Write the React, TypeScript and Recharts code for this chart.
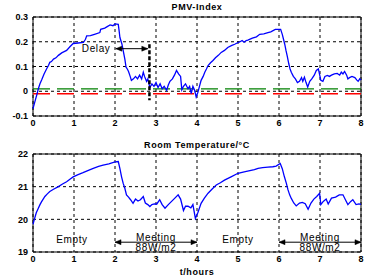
import React from "react";
import {
  CartesianGrid,
  Line,
  LineChart,
  ReferenceArea,
  ReferenceDot,
  ReferenceLine,
  XAxis,
  YAxis,
} from "recharts";

// PMV index
const pmvTime = [
  0, 0.05, 0.1, 0.13, 0.17, 0.21, 0.27, 0.33, 0.38, 0.41, 0.45, 0.5, 0.56, 0.62, 0.7, 0.76, 0.82, 0.9, 0.98,
  1.1, 1.23, 1.28, 1.31, 1.4, 1.5, 1.63, 1.65, 1.75, 1.8, 1.88, 1.95, 2.0, 2.08, 2.1, 2.12, 2.17, 2.2, 2.24,
  2.27, 2.3, 2.33, 2.37, 2.4, 2.45, 2.5, 2.55, 2.6, 2.65, 2.69, 2.72, 2.77, 2.8, 2.85, 2.9, 2.95, 3.0, 3.05,
  3.1, 3.15, 3.2, 3.26, 3.3, 3.34, 3.4, 3.45, 3.5, 3.55, 3.6, 3.63, 3.67, 3.72, 3.78, 3.82, 3.86, 3.9, 3.94,
  3.98, 4.02, 4.06, 4.1, 4.15, 4.19, 4.23, 4.27, 4.33, 4.39, 4.45, 4.52, 4.59, 4.67, 4.75, 4.85, 4.92, 5.0,
  5.05, 5.1, 5.15, 5.2, 5.24, 5.35, 5.45, 5.53, 5.63, 5.73, 5.8, 5.91, 5.98, 6.04, 6.08, 6.11, 6.14, 6.17,
  6.2, 6.24, 6.27, 6.3, 6.35, 6.4, 6.45, 6.5, 6.55, 6.58, 6.62, 6.66, 6.7, 6.75, 6.8, 6.86, 6.91, 6.96, 7.0,
  7.02, 7.07, 7.12, 7.18, 7.23, 7.28, 7.35, 7.42, 7.48, 7.52, 7.56, 7.6, 7.65, 7.68, 7.72, 7.78, 7.85, 7.9,
  7.93, 7.97, 8.0,
];
const pmvValue = [
  -0.07, -0.04, -0.01, 0.01, 0.03, 0.045, 0.07, 0.09, 0.105, 0.117, 0.12, 0.13, 0.135, 0.145, 0.155, 0.16,
  0.165, 0.18, 0.193, 0.195, 0.197, 0.21, 0.224, 0.225, 0.23, 0.237, 0.25, 0.255, 0.26, 0.268, 0.265, 0.272,
  0.27, 0.245, 0.217, 0.19, 0.164, 0.13, 0.097, 0.09, 0.08, 0.06, 0.044, 0.05, 0.06, 0.05, 0.065, 0.05, 0.077,
  0.06, 0.04, 0.05, 0.015, 0.03, 0.02, 0.035, 0.015, 0.03, 0.01, 0.02, 0.004, 0.025, 0.04, 0.05, 0.065, 0.084,
  0.07, 0.06, 0.006, 0.02, 0.03, 0.01, 0.02, -0.01, 0.02, 0.005, -0.023, -0.005, 0.02, 0.044, 0.06, 0.077,
  0.09, 0.104, 0.115, 0.124, 0.135, 0.145, 0.157, 0.165, 0.177, 0.185, 0.19, 0.197, 0.2, 0.205, 0.198, 0.205,
  0.207, 0.215, 0.22, 0.23, 0.232, 0.237, 0.24, 0.25, 0.25, 0.25, 0.23, 0.21, 0.19, 0.165, 0.143, 0.11, 0.09,
  0.077, 0.06, 0.05, 0.035, 0.04, 0.055, 0.04, 0.057, 0.035, 0.017, 0.04, 0.05, 0.065, 0.084, 0.09, 0.06,
  0.044, 0.04, 0.06, 0.064, 0.06, 0.065, 0.07, 0.072, 0.065, 0.077, 0.07, 0.08, 0.065, 0.05, 0.055, 0.06,
  0.055, 0.045, 0.04, 0.05, 0.045,
];

// room temperature, lower panel
const tempTime = [
  0, 0.04, 0.08, 0.13, 0.17, 0.21, 0.29, 0.35, 0.41, 0.5, 0.62, 0.72, 0.82, 0.9, 0.98, 1.1, 1.22, 1.35, 1.47,
  1.6, 1.71, 1.85, 2.0, 2.08, 2.12, 2.16, 2.2, 2.24, 2.28, 2.33, 2.38, 2.44, 2.5, 2.56, 2.62, 2.69, 2.74, 2.8,
  2.85, 2.9, 2.96, 3.02, 3.09, 3.15, 3.22, 3.3, 3.38, 3.46, 3.54, 3.6, 3.67, 3.72, 3.78, 3.85, 3.9, 3.96, 4.02,
  4.1, 4.18, 4.27, 4.37, 4.47, 4.57, 4.67, 4.83, 5.0, 5.15, 5.29, 5.4, 5.49, 5.6, 5.73, 5.85, 5.93, 6.03, 6.08,
  6.13, 6.18, 6.22, 6.26, 6.3, 6.36, 6.42, 6.5, 6.57, 6.64, 6.71, 6.78, 6.85, 6.92, 6.99, 7.02, 7.08, 7.15,
  7.2, 7.28, 7.38, 7.47, 7.56, 7.62, 7.68, 7.75, 7.8, 7.88, 7.95, 8.0,
];
const tempValue = [
  19.85, 20.03, 20.2, 20.34, 20.45, 20.54, 20.7, 20.78, 20.85, 20.92, 21.0, 21.08, 21.15, 21.23, 21.3, 21.37,
  21.43, 21.5, 21.56, 21.62, 21.66, 21.7, 21.76, 21.77, 21.55, 21.3, 21.1, 20.95, 20.75, 20.68, 20.6, 20.49,
  20.62, 20.56, 20.6, 20.7, 20.5, 20.45, 20.39, 20.45, 20.47, 20.47, 20.6, 20.45, 20.34, 20.45, 20.55, 20.65,
  20.75, 20.62, 20.27, 20.4, 20.4, 20.35, 20.45, 20.03, 20.2, 20.49, 20.65, 20.8, 20.93, 21.05, 21.12, 21.2,
  21.3, 21.41, 21.45, 21.49, 21.52, 21.56, 21.58, 21.6, 21.61, 21.63, 21.71, 21.55, 21.31, 21.1, 20.9, 20.75,
  20.64, 20.5, 20.41, 20.5, 20.52, 20.48, 20.31, 20.5, 20.62, 20.7, 20.8, 20.45, 20.55, 20.62, 20.47, 20.65,
  20.68, 20.75, 20.75, 20.6, 20.45, 20.55, 20.6, 20.45, 20.47, 20.46,
];

const hourTicks = [0, 1, 2, 3, 4, 5, 6, 7, 8];
const pmvTicks = [-0.1, 0, 0.1, 0.2, 0.3];
const tempTicks = [19, 20, 21, 22];

// comfort band limits
const upperLimit = 0.01;
const lowerLimit = -0.01;

// delay annotation
const delayStart = 2.02;
const delayEnd = 2.8;
const delayLevel = 0.172;
const delayMark = 2.84;
const delayMarkTop = 0.19;
const delayMarkBottom = -0.036;

// occupancy periods, lower panel
const meetings = [
  [2, 4],
  [6, 8],
];
const emptyLabels = [0.95, 5.0];
const meetingLabels = [3.0, 7.0];
const periodArrowLevel = 19.3;

const pmvData = pmvTime.map((t, i) => ({ x: t, y: pmvValue[i] }));
const tempData = tempTime.map((t, i) => ({ x: t, y: tempValue[i] }));
const delayData = [
  { x: delayStart, y: delayLevel },
  { x: delayEnd, y: delayLevel },
];

const tickStyle = { fontSize: 9, fontWeight: 700, fill: "#000", fontFamily: "Liberation Sans, Arial, sans-serif" };
const noteStyle = { fontSize: 10, fill: "#000", fontFamily: "Liberation Sans, Arial, sans-serif", letterSpacing: 0.6 };

const arrowHead = (props: any) => {
  const { cx, cy, index } = props;
  if (cx == null || cy == null) return <g key={index} />;
  const d = index === 0 ? -1 : 1;
  return (
    <path
      key={index}
      d={`M${cx},${cy} L${cx - d * 6},${cy - 2.5} L${cx - d * 6},${cy + 2.5} Z`}
      fill="#000"
      stroke="#000"
      strokeWidth={0.5}
    />
  );
};

const titleStyle: React.CSSProperties = {
  position: "absolute",
  left: 33,
  width: 328,
  textAlign: "center",
  fontFamily: "Liberation Sans, Arial, sans-serif",
  fontSize: 9,
  fontWeight: 700,
  letterSpacing: 0.6,
  lineHeight: "10px",
};

export default function App() {
  return (
    <div style={{ position: "absolute", left: 0, top: 0, width: 376, height: 280, background: "#fff" }}>
      <div style={{ ...titleStyle, top: 2 }}>PMV-Index</div>
      <div style={{ ...titleStyle, top: 140 }}>Room Temperature/°C</div>

      <div style={{ position: "absolute", left: 0, top: 0 }}>
        <LineChart width={376} height={130} margin={{ top: 17, right: 15, bottom: 0, left: 0 }}>
          <CartesianGrid stroke="#000" strokeDasharray="3 3" />
          <XAxis
            dataKey="x"
            type="number"
            domain={[0, 8]}
            ticks={hourTicks}
            interval={0}
            axisLine={false}
            tickLine={false}
            tickSize={0}
            tickMargin={4}
            height={14}
            tick={tickStyle}
          />
          <YAxis
            type="number"
            domain={[-0.1, 0.3]}
            ticks={pmvTicks}
            interval={0}
            axisLine={false}
            tickLine={false}
            tickSize={0}
            tickMargin={5}
            width={33}
            tick={tickStyle}
          />
          <ReferenceArea x1={0} x2={8} y1={-0.1} y2={0.3} fill="none" stroke="#000" strokeWidth={1} />
          <ReferenceLine y={upperLimit} stroke="#008000" strokeWidth={1.3} strokeDasharray="17 7" />
          <ReferenceLine y={lowerLimit} stroke="#ff0000" strokeWidth={1.3} strokeDasharray="17 7" />
          <Line
            data={pmvData}
            dataKey="y"
            stroke="#0000ff"
            strokeWidth={1.3}
            dot={false}
            activeDot={false}
            type="linear"
            isAnimationActive={false}
          />
          <ReferenceLine
            segment={[
              { x: delayMark, y: delayMarkTop },
              { x: delayMark, y: delayMarkBottom },
            ]}
            stroke="#000"
            strokeWidth={2.5}
            strokeDasharray="4 2"
          />
          <Line
            data={delayData}
            dataKey="y"
            stroke="#000"
            strokeWidth={1}
            dot={arrowHead}
            activeDot={false}
            isAnimationActive={false}
          />
          <ReferenceDot
            x={1.54}
            y={delayLevel}
            r={0}
            fill="none"
            stroke="none"
            label={{ value: "Delay", position: "center", style: noteStyle }}
          />
        </LineChart>
      </div>

      <div style={{ position: "absolute", left: 0, top: 130 }}>
        <LineChart width={376} height={150} margin={{ top: 24, right: 15, bottom: 0, left: 0 }}>
          <CartesianGrid stroke="#000" strokeDasharray="3 3" />
          <XAxis
            dataKey="x"
            type="number"
            domain={[0, 8]}
            ticks={hourTicks}
            interval={0}
            axisLine={false}
            tickLine={false}
            tickSize={0}
            tickMargin={4}
            height={28}
            tick={tickStyle}
            label={{ value: "t/hours", position: "insideBottom", offset: 5, style: { ...tickStyle, letterSpacing: 0.6 } }}
          />
          <YAxis
            type="number"
            domain={[19, 22]}
            ticks={tempTicks}
            interval={0}
            axisLine={false}
            tickLine={false}
            tickSize={0}
            tickMargin={5}
            width={33}
            tick={tickStyle}
          />
          <ReferenceArea x1={0} x2={8} y1={19} y2={22} fill="none" stroke="#000" strokeWidth={1} />
          <Line
            data={tempData}
            dataKey="y"
            stroke="#0000ff"
            strokeWidth={1.3}
            dot={false}
            activeDot={false}
            type="linear"
            isAnimationActive={false}
          />
          {meetings.map(([a, b], i) => (
            <Line
              key={`m${i}`}
              data={[
                { x: a, y: periodArrowLevel },
                { x: b, y: periodArrowLevel },
              ]}
              dataKey="y"
              stroke="#000"
              strokeWidth={1}
              dot={arrowHead}
              activeDot={false}
              isAnimationActive={false}
            />
          ))}
          {emptyLabels.map((x, i) => (
            <ReferenceDot
              key={`e${i}`}
              x={x}
              y={19.37}
              r={0}
              fill="none"
              stroke="none"
              label={{ value: "Empty", position: "center", style: noteStyle }}
            />
          ))}
          {meetingLabels.map((x, i) => (
            <ReferenceDot
              key={`mt${i}`}
              x={x}
              y={19.46}
              r={0}
              fill="none"
              stroke="none"
              label={{ value: "Meeting", position: "center", style: noteStyle }}
            />
          ))}
          {meetingLabels.map((x, i) => (
            <ReferenceDot
              key={`w${i}`}
              x={x}
              y={19.15}
              r={0}
              fill="none"
              stroke="none"
              label={{ value: "88W/m2", position: "center", style: noteStyle }}
            />
          ))}
        </LineChart>
      </div>
    </div>
  );
}
